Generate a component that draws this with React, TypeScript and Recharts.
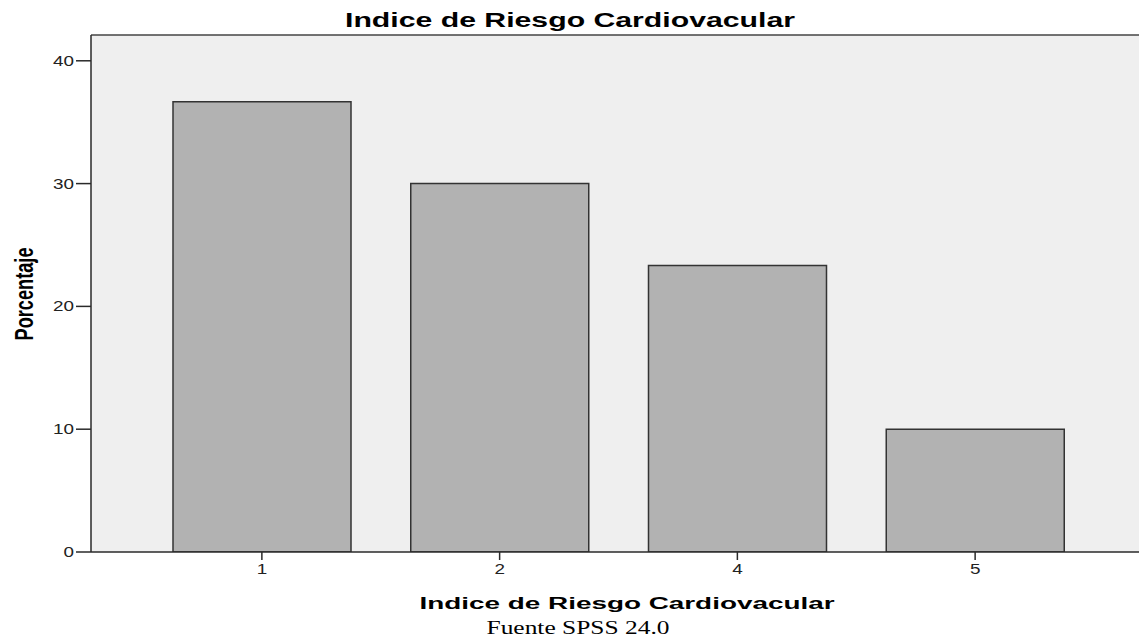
import React from "react";
import { BarChart, Bar, XAxis, YAxis, CartesianGrid, ReferenceLine } from "recharts";

const categories = ["1", "2", "4", "5"];
const percentages = [36.67, 30.0, 23.33, 10.0];
const yTicks = [0, 10, 20, 30, 40];
const Y_MAX = 42.1;

const data = categories.map((c, i) => ({ cat: c, pct: percentages[i] }));

const YTick = (props: any) => {
  const { x, y, payload } = props;
  const s = String(payload.value);
  return (
    <text
      x={x}
      y={y}
      dy={5}
      textAnchor="end"
      fontFamily="Liberation Sans, Arial, sans-serif"
      fontSize={14}
      fill="#222"
      textLength={s.length * 10.5}
      lengthAdjust="spacingAndGlyphs"
    >
      {s}
    </text>
  );
};

const XTick = (props: any) => {
  const { x, y, payload } = props;
  const s = String(payload.value);
  return (
    <text
      x={x}
      y={y}
      dy={12}
      textAnchor="middle"
      fontFamily="Liberation Sans, Arial, sans-serif"
      fontSize={15}
      fill="#222"
      textLength={s.length * 10.5}
      lengthAdjust="spacingAndGlyphs"
    >
      {s}
    </text>
  );
};

export default function App() {
  return (
    <div style={{ position: "relative", width: 1139, height: 644, overflow: "hidden", background: "#fff" }}>
      <style>{`body{margin:0}`}</style>
      <BarChart
        width={1160}
        height={644}
        data={data}
        margin={{ top: 35, right: 14, bottom: 62, left: 31 }}
      >
        <CartesianGrid fill="#efefef" horizontal={false} vertical={false} />
        <XAxis
          dataKey="cat"
          type="category"
          height={30}
          padding={{ left: 52, right: 52 }}
          axisLine={{ stroke: "#2a2a2a", strokeWidth: 1.5 }}
          tickLine={{ stroke: "#2a2a2a", strokeWidth: 1.5 }}
          tickSize={8}
          tickMargin={2}
          tick={<XTick />}
          interval={0}
        />
        <YAxis
          width={60}
          domain={[0, Y_MAX]}
          ticks={yTicks}
          allowDataOverflow
          axisLine={{ stroke: "#2a2a2a", strokeWidth: 1.5 }}
          tickLine={{ stroke: "#2a2a2a", strokeWidth: 1.5 }}
          tickSize={15}
          tickMargin={2}
          tick={<YTick />}
        />
        <ReferenceLine y={Y_MAX} stroke="#444" strokeWidth={1.5} />
        <Bar
          dataKey="pct"
          barSize={178}
          fill="#b2b2b2"
          stroke="#333"
          strokeWidth={1.5}
          isAnimationActive={false}
        />
      </BarChart>
      <svg
        width={1139}
        height={644}
        style={{ position: "absolute", left: 0, top: 0, pointerEvents: "none" }}
      >
        <text
          x={570}
          y={27}
          textAnchor="middle"
          fontFamily="Liberation Sans, Arial, sans-serif"
          fontWeight="bold"
          fontSize={20}
          fill="#000"
          textLength={450}
          lengthAdjust="spacingAndGlyphs"
        >
          Indice de Riesgo Cardiovacular
        </text>
        <text
          x={627}
          y={609}
          textAnchor="middle"
          fontFamily="Liberation Sans, Arial, sans-serif"
          fontWeight="bold"
          fontSize={16}
          fill="#000"
          textLength={415}
          lengthAdjust="spacingAndGlyphs"
        >
          Indice de Riesgo Cardiovacular
        </text>
        <text
          x={578}
          y={634}
          textAnchor="middle"
          fontFamily="Liberation Serif, Times New Roman, serif"
          fontSize={18}
          fill="#000"
          textLength={183}
          lengthAdjust="spacingAndGlyphs"
        >
          Fuente SPSS 24.0
        </text>
        <text
          transform="translate(33,294) rotate(-90)"
          x={0}
          y={0}
          textAnchor="middle"
          fontFamily="Liberation Sans, Arial, sans-serif"
          fontWeight="bold"
          fontSize={25}
          fill="#000"
          textLength={93}
          lengthAdjust="spacingAndGlyphs"
        >
          Porcentaje
        </text>
      </svg>
    </div>
  );
}
